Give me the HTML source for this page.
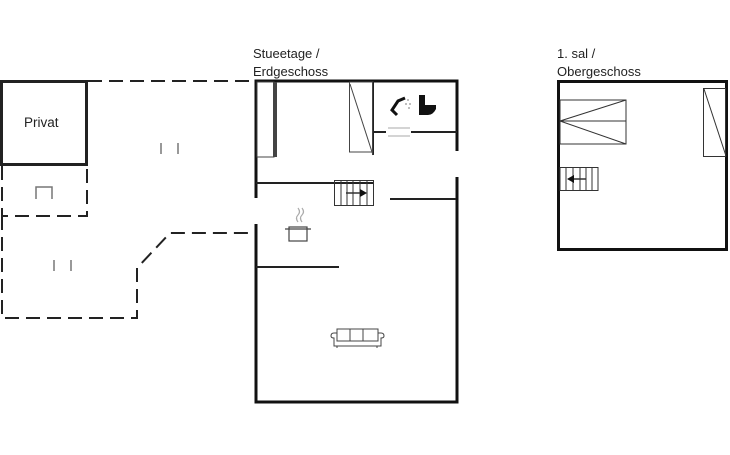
<!DOCTYPE html>
<html><head><style>
body{margin:0;background:#fff;width:730px;height:450px;overflow:hidden}
text{font-family:"Liberation Sans",sans-serif;font-size:13px;fill:#222}
</style></head><body>
<svg width="730" height="450" viewBox="0 0 730 450" xmlns="http://www.w3.org/2000/svg">
<text x="253" y="58">Stueetage /</text>
<text x="253" y="76">Erdgeschoss</text>
<text x="557" y="58">1. sal /</text>
<text x="557" y="76">Obergeschoss</text>
<g fill="none" stroke="#222" stroke-width="2" stroke-dasharray="14,7">
<line x1="88" y1="81" x2="255" y2="81"/>
<polyline points="2,166 2,216 87,216 87,166"/>
<polyline points="2,216 2,318 137,318 137,268 170,233 255,233"/>
</g>
<rect x="1.5" y="81.5" width="85" height="83" fill="none" stroke="#222" stroke-width="3"/>
<text x="24" y="127" style="font-size:13.5px">Privat</text>
<g stroke="#777" stroke-width="1.5" fill="none">
<line x1="161" y1="143" x2="161" y2="154"/><line x1="178" y1="143" x2="178" y2="154"/>
<line x1="54" y1="260" x2="54" y2="271"/><line x1="71" y1="260" x2="71" y2="271"/>
<polyline points="36,199 36,187 52,187 52,199"/>
</g>
<g stroke="#111" stroke-width="3" fill="none">
<polyline points="256,198 256,81 457,81 457,151"/>
<polyline points="256,224 256,402 457,402 457,177"/>
</g>
<g stroke="#222" stroke-width="2" fill="none">
<line x1="256" y1="183" x2="373" y2="183"/>
<line x1="373" y1="81" x2="373" y2="155"/>
<line x1="373" y1="132" x2="386" y2="132"/>
<line x1="411" y1="132" x2="457" y2="132"/>
<line x1="390" y1="199" x2="456" y2="199"/>
<line x1="256" y1="267" x2="339" y2="267"/>
</g>
<g stroke="#aaa" stroke-width="1"><line x1="388" y1="128" x2="410" y2="128"/><line x1="388" y1="136" x2="410" y2="136"/></g>
<rect x="257" y="82" width="17" height="75" fill="none" stroke="#444" stroke-width="1"/>
<rect x="273" y="82" width="4" height="75" fill="#444"/>
<rect x="349.5" y="82" width="23" height="70" fill="none" stroke="#444" stroke-width="1"/>
<line x1="350" y1="84" x2="373" y2="155" stroke="#444" stroke-width="1"/>
<g stroke="#333" stroke-width="1" fill="none">
<rect x="334.5" y="180.5" width="39" height="25"/>
<line x1="341" y1="180" x2="341" y2="206"/><line x1="347" y1="180" x2="347" y2="206"/>
<line x1="353" y1="180" x2="353" y2="206"/><line x1="360" y1="180" x2="360" y2="206"/><line x1="367" y1="180" x2="367" y2="206"/>
<line x1="346" y1="193" x2="362" y2="193" stroke-width="1.5"/>
</g>
<polygon points="360,189 367,193 360,197" fill="#111"/>
<path d="M405,98 L398,101 L392,110 L397,115" fill="none" stroke="#111" stroke-width="3"/>
<g fill="#aaa"><circle cx="408" cy="100" r="1"/><circle cx="410" cy="104" r="1"/><circle cx="406" cy="104" r="1"/><circle cx="409" cy="108" r="1"/></g>
<path d="M419,95 h6 v10 h11 v4 q-3,6 -8,6 h-9 z" fill="#111"/>
<g stroke="#444" stroke-width="1.2" fill="none">
<rect x="289" y="227" width="18" height="14"/>
<line x1="285" y1="229" x2="311" y2="229"/>
<path d="M298,222 q-3,-4 0,-7 q3,-3 0,-7" stroke="#aaa"/>
<path d="M302,222 q-3,-4 0,-7 q3,-3 0,-7" stroke="#aaa"/>
</g>
<g stroke="#444" stroke-width="1" fill="none">
<rect x="337" y="329" width="41" height="12"/>
<line x1="350" y1="329" x2="350" y2="341"/><line x1="363" y1="329" x2="363" y2="341"/>
<path d="M337,333 h-3 q-3,0 -3,3 q0,2 3,2 v8 h47 v-8 q3,0 3,-2 q0,-3 -3,-3 h-3"/>
<line x1="337" y1="346" x2="337" y2="348"/><line x1="377" y1="346" x2="377" y2="348"/>
</g>
<rect x="558.5" y="81.5" width="168" height="168" fill="none" stroke="#111" stroke-width="3"/>
<g stroke="#333" stroke-width="1" fill="none">
<rect x="560" y="100" width="66" height="44"/>
<line x1="560" y1="121" x2="626" y2="121"/>
<line x1="560" y1="121" x2="626" y2="100"/><line x1="560" y1="121" x2="626" y2="144"/>
<rect x="703.5" y="88.5" width="22" height="68"/>
<line x1="704" y1="89" x2="726" y2="156"/>
<rect x="560" y="167.5" width="38" height="23"/>
<line x1="566" y1="168" x2="566" y2="191"/><line x1="573" y1="168" x2="573" y2="191"/>
<line x1="580" y1="168" x2="580" y2="191"/><line x1="586" y1="168" x2="586" y2="191"/><line x1="592" y1="168" x2="592" y2="191"/>
<line x1="572" y1="179" x2="586" y2="179" stroke-width="1.5"/>
</g>
<polygon points="567,179 574,175 574,183" fill="#111"/>
</svg>
</body></html>
